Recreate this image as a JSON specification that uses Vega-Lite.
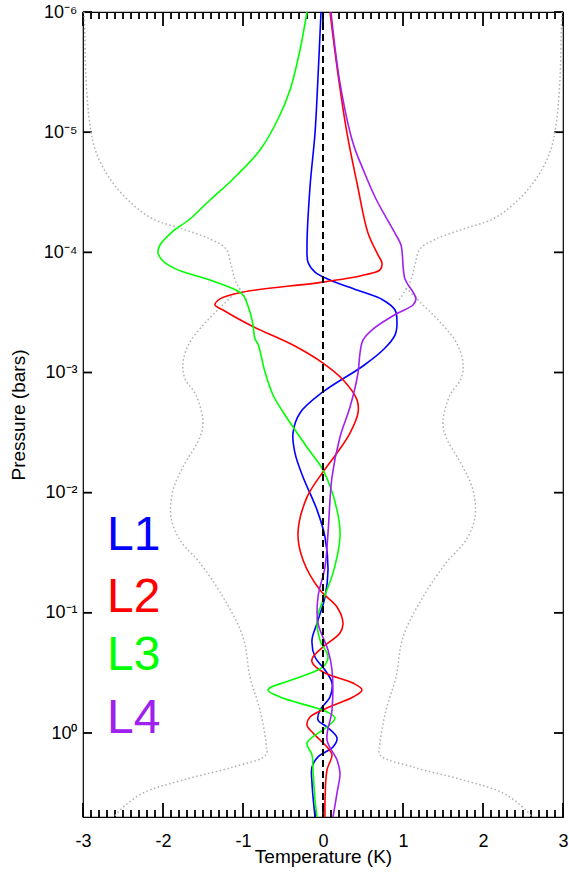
{
  "$schema": "https://vega.github.io/schema/vega-lite/v6.json",
  "width": 480,
  "height": 805,
  "autosize": {"type": "none"},
  "padding": {"left": 83, "top": 12, "right": 6, "bottom": 56},
  "config": {
    "view": {"stroke": "#000000", "strokeWidth": 1.2},
    "axis": {
      "grid": false,
      "domain": false,
      "labelFlush": false,
      "labelFont": "Liberation Sans",
      "titleFont": "Liberation Sans",
      "labelFontSize": 18,
      "titleFontSize": 19,
      "titleFontWeight": "normal",
      "labelColor": "#000000",
      "titleColor": "#000000"
    }
  },
  "datasets": {
    "env": [
      {"seg": "LU", "T": -2.9875, "p": 1e-6}, {"seg": "LU", "T": -2.98, "p": 1.28e-6}, {"seg": "LU", "T": -2.9625, "p": 3.61e-6}, {"seg": "LU", "T": -2.9125, "p": 8.71e-6}, {"seg": "LU", "T": -2.8375, "p": 1.46e-5}, {"seg": "LU", "T": -2.6625, "p": 2.45e-5}, {"seg": "LU", "T": -2.4125, "p": 3.81e-5}, {"seg": "LU", "T": -2.125, "p": 5.28e-5}, {"seg": "LU", "T": -1.75, "p": 6.40e-5}, {"seg": "LU", "T": -1.4125, "p": 7.75e-5}, {"seg": "LU", "T": -1.2125, "p": 9.37e-5}, {"seg": "LU", "T": -1.15, "p": 1.27e-4}, {"seg": "LU", "T": -1.0875, "p": 1.77e-4}, {"seg": "LU", "T": -0.95, "p": 2.49e-4},
      {"seg": "LL", "T": -1.0375, "p": 1.98e-4}, {"seg": "LL", "T": -1.25, "p": 2.74e-4}, {"seg": "LL", "T": -1.4625, "p": 3.80e-4}, {"seg": "LL", "T": -1.6625, "p": 5.57e-4}, {"seg": "LL", "T": -1.75, "p": 8.18e-4}, {"seg": "LL", "T": -1.725, "p": 1.13e-3}, {"seg": "LL", "T": -1.5875, "p": 1.54e-3}, {"seg": "LL", "T": -1.5, "p": 2.58e-3}, {"seg": "LL", "T": -1.5375, "p": 3.44e-3}, {"seg": "LL", "T": -1.75, "p": 6.12e-3}, {"seg": "LL", "T": -1.875, "p": 9.51e-3}, {"seg": "LL", "T": -1.9, "p": 1.60e-2}, {"seg": "LL", "T": -1.7875, "p": 2.48e-2}, {"seg": "LL", "T": -1.5375, "p": 3.85e-2}, {"seg": "LL", "T": -1.25, "p": 7.38e-2}, {"seg": "LL", "T": -1.0, "p": 0.159}, {"seg": "LL", "T": -0.9125, "p": 0.342}, {"seg": "LL", "T": -0.7875, "p": 0.644}, {"seg": "LL", "T": -0.7125, "p": 1.21}, {"seg": "LL", "T": -0.7125, "p": 1.52}, {"seg": "LL", "T": -1.125, "p": 1.92}, {"seg": "LL", "T": -1.75, "p": 2.46}, {"seg": "LL", "T": -2.25, "p": 3.16}, {"seg": "LL", "T": -2.5375, "p": 4.38}, {"seg": "LL", "T": -2.6125, "p": 5.0},
      {"seg": "RU", "T": 2.9875, "p": 1e-6}, {"seg": "RU", "T": 2.98, "p": 1.28e-6}, {"seg": "RU", "T": 2.9625, "p": 3.61e-6}, {"seg": "RU", "T": 2.9125, "p": 8.71e-6}, {"seg": "RU", "T": 2.8375, "p": 1.46e-5}, {"seg": "RU", "T": 2.6625, "p": 2.45e-5}, {"seg": "RU", "T": 2.4125, "p": 3.81e-5}, {"seg": "RU", "T": 2.125, "p": 5.28e-5}, {"seg": "RU", "T": 1.75, "p": 6.40e-5}, {"seg": "RU", "T": 1.4125, "p": 7.75e-5}, {"seg": "RU", "T": 1.2125, "p": 9.37e-5}, {"seg": "RU", "T": 1.15, "p": 1.27e-4}, {"seg": "RU", "T": 1.0875, "p": 1.77e-4}, {"seg": "RU", "T": 0.95, "p": 2.49e-4},
      {"seg": "RL", "T": 1.0375, "p": 1.98e-4}, {"seg": "RL", "T": 1.25, "p": 2.74e-4}, {"seg": "RL", "T": 1.4625, "p": 3.80e-4}, {"seg": "RL", "T": 1.6625, "p": 5.57e-4}, {"seg": "RL", "T": 1.75, "p": 8.18e-4}, {"seg": "RL", "T": 1.725, "p": 1.13e-3}, {"seg": "RL", "T": 1.5875, "p": 1.54e-3}, {"seg": "RL", "T": 1.5, "p": 2.58e-3}, {"seg": "RL", "T": 1.5375, "p": 3.44e-3}, {"seg": "RL", "T": 1.75, "p": 6.12e-3}, {"seg": "RL", "T": 1.875, "p": 9.51e-3}, {"seg": "RL", "T": 1.9, "p": 1.60e-2}, {"seg": "RL", "T": 1.7875, "p": 2.48e-2}, {"seg": "RL", "T": 1.5375, "p": 3.85e-2}, {"seg": "RL", "T": 1.25, "p": 7.38e-2}, {"seg": "RL", "T": 1.0, "p": 0.159}, {"seg": "RL", "T": 0.9125, "p": 0.342}, {"seg": "RL", "T": 0.7875, "p": 0.644}, {"seg": "RL", "T": 0.7125, "p": 1.21}, {"seg": "RL", "T": 0.7125, "p": 1.52}, {"seg": "RL", "T": 1.125, "p": 1.92}, {"seg": "RL", "T": 1.75, "p": 2.46}, {"seg": "RL", "T": 2.25, "p": 3.16}, {"seg": "RL", "T": 2.5375, "p": 4.38}, {"seg": "RL", "T": 2.6125, "p": 5.0}
    ],
    "curves": [
      {"s": "L1", "T": -0.025, "p": 1e-6}, {"s": "L1", "T": -0.0625, "p": 3.48e-6}, {"s": "L1", "T": -0.1, "p": 1.02e-5}, {"s": "L1", "T": -0.1625, "p": 2.86e-5}, {"s": "L1", "T": -0.2, "p": 9.04e-5}, {"s": "L1", "T": -0.1875, "p": 1.21e-4}, {"s": "L1", "T": -0.1, "p": 1.46e-4}, {"s": "L1", "T": 0.0875, "p": 1.70e-4}, {"s": "L1", "T": 0.425, "p": 2.06e-4}, {"s": "L1", "T": 0.75, "p": 2.49e-4}, {"s": "L1", "T": 0.9, "p": 3.02e-4}, {"s": "L1", "T": 0.925, "p": 3.87e-4}, {"s": "L1", "T": 0.9, "p": 4.88e-4}, {"s": "L1", "T": 0.7625, "p": 6.38e-4}, {"s": "L1", "T": 0.5, "p": 8.83e-4}, {"s": "L1", "T": 0.0, "p": 1.45e-3}, {"s": "L1", "T": -0.2875, "p": 2.17e-3}, {"s": "L1", "T": -0.375, "p": 3.19e-3}, {"s": "L1", "T": -0.35, "p": 4.68e-3}, {"s": "L1", "T": -0.25, "p": 7.41e-3}, {"s": "L1", "T": -0.075, "p": 1.39e-2}, {"s": "L1", "T": 0.025, "p": 2.34e-2}, {"s": "L1", "T": 0.0625, "p": 4.41e-2}, {"s": "L1", "T": 0.025, "p": 7.38e-2}, {"s": "L1", "T": -0.075, "p": 0.122}, {"s": "L1", "T": -0.1375, "p": 0.168}, {"s": "L1", "T": -0.1, "p": 0.233}, {"s": "L1", "T": 0.025, "p": 0.299}, {"s": "L1", "T": 0.1125, "p": 0.384}, {"s": "L1", "T": 0.0875, "p": 0.502}, {"s": "L1", "T": -0.0375, "p": 0.644}, {"s": "L1", "T": -0.0625, "p": 0.78}, {"s": "L1", "T": 0.05, "p": 0.891}, {"s": "L1", "T": 0.175, "p": 1.10}, {"s": "L1", "T": 0.125, "p": 1.31}, {"s": "L1", "T": -0.0625, "p": 1.58}, {"s": "L1", "T": -0.1375, "p": 1.92}, {"s": "L1", "T": -0.1375, "p": 2.61}, {"s": "L1", "T": -0.1, "p": 5.0},
      {"s": "L2", "T": 0.0875, "p": 1e-6}, {"s": "L2", "T": 0.175, "p": 2.87e-6}, {"s": "L2", "T": 0.3, "p": 1.02e-5}, {"s": "L2", "T": 0.425, "p": 2.65e-5}, {"s": "L2", "T": 0.5625, "p": 6.90e-5}, {"s": "L2", "T": 0.6875, "p": 1.05e-4}, {"s": "L2", "T": 0.7375, "p": 1.23e-4}, {"s": "L2", "T": 0.7125, "p": 1.40e-4}, {"s": "L2", "T": 0.5, "p": 1.55e-4}, {"s": "L2", "T": 0.0, "p": 1.77e-4}, {"s": "L2", "T": -1.0, "p": 2.14e-4}, {"s": "L2", "T": -1.2875, "p": 2.44e-4}, {"s": "L2", "T": -1.35, "p": 2.74e-4}, {"s": "L2", "T": -1.25, "p": 3.02e-4}, {"s": "L2", "T": -0.9125, "p": 4.03e-4}, {"s": "L2", "T": -0.375, "p": 5.90e-4}, {"s": "L2", "T": 0.0, "p": 8.34e-4}, {"s": "L2", "T": 0.25, "p": 1.15e-3}, {"s": "L2", "T": 0.425, "p": 1.69e-3}, {"s": "L2", "T": 0.4375, "p": 2.17e-3}, {"s": "L2", "T": 0.3375, "p": 3.19e-3}, {"s": "L2", "T": 0.175, "p": 4.68e-3}, {"s": "L2", "T": 0.0, "p": 6.73e-3}, {"s": "L2", "T": -0.2, "p": 1.09e-2}, {"s": "L2", "T": -0.3125, "p": 2.17e-2}, {"s": "L2", "T": -0.25, "p": 3.63e-2}, {"s": "L2", "T": -0.0375, "p": 6.46e-2}, {"s": "L2", "T": 0.175, "p": 8.95e-2}, {"s": "L2", "T": 0.25, "p": 0.122}, {"s": "L2", "T": 0.2125, "p": 0.147}, {"s": "L2", "T": 0.0, "p": 0.192}, {"s": "L2", "T": -0.125, "p": 0.233}, {"s": "L2", "T": -0.1375, "p": 0.256}, {"s": "L2", "T": 0.0, "p": 0.311}, {"s": "L2", "T": 0.375, "p": 0.384}, {"s": "L2", "T": 0.4875, "p": 0.438}, {"s": "L2", "T": 0.375, "p": 0.502}, {"s": "L2", "T": 0.05, "p": 0.619}, {"s": "L2", "T": -0.1625, "p": 0.737}, {"s": "L2", "T": -0.2, "p": 0.859}, {"s": "L2", "T": -0.125, "p": 1.0}, {"s": "L2", "T": 0.05, "p": 1.31}, {"s": "L2", "T": 0.1125, "p": 1.52}, {"s": "L2", "T": 0.05, "p": 2.03}, {"s": "L2", "T": 0.025, "p": 3.61}, {"s": "L2", "T": 0.025, "p": 5.0},
      {"s": "L3", "T": -0.2, "p": 1e-6}, {"s": "L3", "T": -0.2875, "p": 2.07e-6}, {"s": "L3", "T": -0.4125, "p": 4.46e-6}, {"s": "L3", "T": -0.55, "p": 7.48e-6}, {"s": "L3", "T": -0.7875, "p": 1.41e-5}, {"s": "L3", "T": -1.1375, "p": 2.50e-5}, {"s": "L3", "T": -1.4125, "p": 3.67e-5}, {"s": "L3", "T": -1.6625, "p": 5.28e-5}, {"s": "L3", "T": -1.8875, "p": 6.78e-5}, {"s": "L3", "T": -2.0375, "p": 8.69e-5}, {"s": "L3", "T": -2.0625, "p": 9.93e-5}, {"s": "L3", "T": -2.0125, "p": 1.16e-4}, {"s": "L3", "T": -1.8375, "p": 1.38e-4}, {"s": "L3", "T": -1.4125, "p": 1.70e-4}, {"s": "L3", "T": -1.0875, "p": 2.06e-4}, {"s": "L3", "T": -1.0, "p": 2.26e-4}, {"s": "L3", "T": -0.9125, "p": 3.14e-4}, {"s": "L3", "T": -0.875, "p": 4.03e-4}, {"s": "L3", "T": -0.85, "p": 5.26e-4}, {"s": "L3", "T": -0.8125, "p": 5.79e-4}, {"s": "L3", "T": -0.725, "p": 9.91e-4}, {"s": "L3", "T": -0.625, "p": 1.54e-3}, {"s": "L3", "T": -0.5, "p": 2.13e-3}, {"s": "L3", "T": -0.375, "p": 2.84e-3}, {"s": "L3", "T": -0.175, "p": 4.42e-3}, {"s": "L3", "T": 0.0, "p": 6.47e-3}, {"s": "L3", "T": 0.175, "p": 1.39e-2}, {"s": "L3", "T": 0.2125, "p": 2.34e-2}, {"s": "L3", "T": 0.125, "p": 4.67e-2}, {"s": "L3", "T": 0.0, "p": 7.82e-2}, {"s": "L3", "T": -0.075, "p": 0.115}, {"s": "L3", "T": -0.0375, "p": 0.168}, {"s": "L3", "T": 0.0625, "p": 0.233}, {"s": "L3", "T": 0.0, "p": 0.282}, {"s": "L3", "T": -0.2875, "p": 0.342}, {"s": "L3", "T": -0.6875, "p": 0.438}, {"s": "L3", "T": -0.5375, "p": 0.502}, {"s": "L3", "T": 0.05, "p": 0.668}, {"s": "L3", "T": 0.15, "p": 0.75}, {"s": "L3", "T": 0.05, "p": 0.891}, {"s": "L3", "T": -0.2, "p": 1.21}, {"s": "L3", "T": -0.1375, "p": 1.52}, {"s": "L3", "T": -0.125, "p": 2.03}, {"s": "L3", "T": -0.1, "p": 3.61}, {"s": "L3", "T": -0.075, "p": 5.0},
      {"s": "L4", "T": 0.1, "p": 1e-6}, {"s": "L4", "T": 0.2125, "p": 3.90e-6}, {"s": "L4", "T": 0.375, "p": 1.23e-5}, {"s": "L4", "T": 0.5, "p": 2.03e-5}, {"s": "L4", "T": 0.6625, "p": 3.60e-5}, {"s": "L4", "T": 0.9125, "p": 7.18e-5}, {"s": "L4", "T": 0.975, "p": 8.69e-5}, {"s": "L4", "T": 1.025, "p": 1.67e-4}, {"s": "L4", "T": 1.125, "p": 2.14e-4}, {"s": "L4", "T": 1.1625, "p": 2.44e-4}, {"s": "L4", "T": 1.125, "p": 2.74e-4}, {"s": "L4", "T": 0.9125, "p": 3.26e-4}, {"s": "L4", "T": 0.625, "p": 4.35e-4}, {"s": "L4", "T": 0.5, "p": 5.37e-4}, {"s": "L4", "T": 0.4625, "p": 6.89e-4}, {"s": "L4", "T": 0.4375, "p": 1.01e-3}, {"s": "L4", "T": 0.3375, "p": 1.94e-3}, {"s": "L4", "T": 0.2125, "p": 3.44e-3}, {"s": "L4", "T": 0.1125, "p": 7.41e-3}, {"s": "L4", "T": 0.0625, "p": 2.17e-2}, {"s": "L4", "T": 0.025, "p": 4.16e-2}, {"s": "L4", "T": -0.0625, "p": 7.38e-2}, {"s": "L4", "T": -0.0625, "p": 0.122}, {"s": "L4", "T": 0.0625, "p": 0.204}, {"s": "L4", "T": 0.1125, "p": 0.299}, {"s": "L4", "T": 0.1125, "p": 0.644}, {"s": "L4", "T": 0.05, "p": 1.14}, {"s": "L4", "T": 0.175, "p": 1.68}, {"s": "L4", "T": 0.2125, "p": 2.15}, {"s": "L4", "T": 0.175, "p": 3.16}, {"s": "L4", "T": 0.125, "p": 5.0}
    ],
    "zero": [{"T": 0, "p": 1e-6}, {"T": 0, "p": 5.0}],
    "labels": [
      {"s": "L1", "T": -2.7, "p": 0.030},
      {"s": "L2", "T": -2.7, "p": 0.0984},
      {"s": "L3", "T": -2.7, "p": 0.299},
      {"s": "L4", "T": -2.7, "p": 1.0}
    ],
    "xmajB": [{"T": -3}, {"T": -2}, {"T": -1}, {"T": 0}, {"T": 1}, {"T": 2}, {"T": 3}],
    "xmajT": [{"T": -3}, {"T": -2}, {"T": -1}, {"T": 0}, {"T": 1}, {"T": 2}, {"T": 3}],
    "xminB": [{"T": -2.9}, {"T": -2.8}, {"T": -2.7}, {"T": -2.6}, {"T": -2.5}, {"T": -2.4}, {"T": -2.3}, {"T": -2.2}, {"T": -2.1}, {"T": -1.9}, {"T": -1.8}, {"T": -1.7}, {"T": -1.6}, {"T": -1.5}, {"T": -1.4}, {"T": -1.3}, {"T": -1.2}, {"T": -1.1}, {"T": -0.9}, {"T": -0.8}, {"T": -0.7}, {"T": -0.6}, {"T": -0.5}, {"T": -0.4}, {"T": -0.3}, {"T": -0.2}, {"T": -0.1}, {"T": 0.1}, {"T": 0.2}, {"T": 0.3}, {"T": 0.4}, {"T": 0.5}, {"T": 0.6}, {"T": 0.7}, {"T": 0.8}, {"T": 0.9}, {"T": 1.1}, {"T": 1.2}, {"T": 1.3}, {"T": 1.4}, {"T": 1.5}, {"T": 1.6}, {"T": 1.7}, {"T": 1.8}, {"T": 1.9}, {"T": 2.1}, {"T": 2.2}, {"T": 2.3}, {"T": 2.4}, {"T": 2.5}, {"T": 2.6}, {"T": 2.7}, {"T": 2.8}, {"T": 2.9}],
    "xminT": [{"T": -2.9}, {"T": -2.8}, {"T": -2.7}, {"T": -2.6}, {"T": -2.5}, {"T": -2.4}, {"T": -2.3}, {"T": -2.2}, {"T": -2.1}, {"T": -1.9}, {"T": -1.8}, {"T": -1.7}, {"T": -1.6}, {"T": -1.5}, {"T": -1.4}, {"T": -1.3}, {"T": -1.2}, {"T": -1.1}, {"T": -0.9}, {"T": -0.8}, {"T": -0.7}, {"T": -0.6}, {"T": -0.5}, {"T": -0.4}, {"T": -0.3}, {"T": -0.2}, {"T": -0.1}, {"T": 0.1}, {"T": 0.2}, {"T": 0.3}, {"T": 0.4}, {"T": 0.5}, {"T": 0.6}, {"T": 0.7}, {"T": 0.8}, {"T": 0.9}, {"T": 1.1}, {"T": 1.2}, {"T": 1.3}, {"T": 1.4}, {"T": 1.5}, {"T": 1.6}, {"T": 1.7}, {"T": 1.8}, {"T": 1.9}, {"T": 2.1}, {"T": 2.2}, {"T": 2.3}, {"T": 2.4}, {"T": 2.5}, {"T": 2.6}, {"T": 2.7}, {"T": 2.8}, {"T": 2.9}],
    "ymajL": [{"p": 1e-6}, {"p": 1e-5}, {"p": 1e-4}, {"p": 0.001}, {"p": 0.01}, {"p": 0.1}, {"p": 1}],
    "ymajR": [{"p": 1e-6}, {"p": 1e-5}, {"p": 1e-4}, {"p": 0.001}, {"p": 0.01}, {"p": 0.1}, {"p": 1}]
  },
  "layer": [
    {
      "data": {"name": "xmajB"},
      "mark": {"type": "rule", "color": "#000000", "strokeWidth": 1.8},
      "encoding": {
        "x": {"field": "T", "type": "quantitative", "scale": {"domain": [-3, 3], "nice": false, "zero": false},
          "axis": {"orient": "bottom", "values": [-3, -2, -1, 0, 1, 2, 3], "ticks": false, "labelPadding": 15, "labelExpr": "(datum.value < 0 ? '-' : '') + abs(datum.value)", "title": "Temperature (K)", "titlePadding": -3}},
        "y": {"datum": 5, "scale": {"type": "log", "domain": [1e-6, 5], "reverse": true, "nice": false},
          "axis": {"orient": "left", "values": [1e-6, 1e-5, 1e-4, 0.001, 0.01, 0.1, 1], "ticks": false, "labelPadding": 6,
            "labelExpr": "datum.value < 3e-6 ? '10⁻⁶' : datum.value < 3e-5 ? '10⁻⁵' : datum.value < 3e-4 ? '10⁻⁴' : datum.value < 3e-3 ? '10⁻³' : datum.value < 3e-2 ? '10⁻²' : datum.value < 0.3 ? '10⁻¹' : '10⁰'",
            "title": "Pressure (bars)", "titlePadding": 15}},
        "y2": {"datum": 3.82}
      }
    },
    {
      "data": {"name": "xmajT"},
      "mark": {"type": "rule", "color": "#000000", "strokeWidth": 1.8},
      "encoding": {
        "x": {"field": "T", "type": "quantitative", "scale": {"domain": [-3, 3], "nice": false, "zero": false}, "axis": null},
        "y": {"datum": 1e-6, "scale": {"type": "log", "domain": [1e-6, 5], "reverse": true, "nice": false}, "axis": null},
        "y2": {"datum": 1.307e-6}
      }
    },
    {
      "data": {"name": "xminB"},
      "mark": {"type": "rule", "color": "#000000", "strokeWidth": 1.8},
      "encoding": {
        "x": {"field": "T", "type": "quantitative", "scale": {"domain": [-3, 3], "nice": false, "zero": false}, "axis": null},
        "y": {"datum": 5, "scale": {"type": "log", "domain": [1e-6, 5], "reverse": true, "nice": false}, "axis": null},
        "y2": {"datum": 4.37}
      }
    },
    {
      "data": {"name": "xminT"},
      "mark": {"type": "rule", "color": "#000000", "strokeWidth": 1.8},
      "encoding": {
        "x": {"field": "T", "type": "quantitative", "scale": {"domain": [-3, 3], "nice": false, "zero": false}, "axis": null},
        "y": {"datum": 1e-6, "scale": {"type": "log", "domain": [1e-6, 5], "reverse": true, "nice": false}, "axis": null},
        "y2": {"datum": 1.143e-6}
      }
    },
    {
      "data": {"name": "ymajL"},
      "mark": {"type": "rule", "color": "#000000", "strokeWidth": 1.8},
      "encoding": {
        "y": {"field": "p", "type": "quantitative", "scale": {"type": "log", "domain": [1e-6, 5], "reverse": true, "nice": false}, "axis": null},
        "x": {"datum": -3, "scale": {"domain": [-3, 3], "nice": false, "zero": false}, "axis": null},
        "x2": {"datum": -2.8875}
      }
    },
    {
      "data": {"name": "ymajR"},
      "mark": {"type": "rule", "color": "#000000", "strokeWidth": 1.8},
      "encoding": {
        "y": {"field": "p", "type": "quantitative", "scale": {"type": "log", "domain": [1e-6, 5], "reverse": true, "nice": false}, "axis": null},
        "x": {"datum": 3, "scale": {"domain": [-3, 3], "nice": false, "zero": false}, "axis": null},
        "x2": {"datum": 2.8875}
      }
    },
    {
      "data": {"name": "env"},
      "mark": {"type": "line", "color": "#b0b0b0", "strokeWidth": 1.5, "strokeDash": [1.5, 2.5], "interpolate": "catmull-rom"},
      "encoding": {
        "x": {"field": "T", "type": "quantitative", "scale": {"domain": [-3, 3], "nice": false, "zero": false}, "axis": null},
        "y": {"field": "p", "type": "quantitative", "scale": {"type": "log", "domain": [1e-6, 5], "reverse": true, "nice": false}, "axis": null},
        "detail": {"field": "seg"},
        "order": {"value": null}
      }
    },
    {
      "data": {"name": "curves"},
      "mark": {"type": "line", "strokeWidth": 1.6, "interpolate": "catmull-rom"},
      "encoding": {
        "x": {"field": "T", "type": "quantitative", "scale": {"domain": [-3, 3], "nice": false, "zero": false}, "axis": null},
        "y": {"field": "p", "type": "quantitative", "scale": {"type": "log", "domain": [1e-6, 5], "reverse": true, "nice": false}, "axis": null},
        "color": {"field": "s", "type": "nominal", "scale": {"domain": ["L1", "L2", "L3", "L4"], "range": ["#0000ff", "#ff0000", "#00ff00", "#a020f0"]}, "legend": null},
        "order": {"value": null}
      }
    },
    {
      "data": {"name": "zero"},
      "mark": {"type": "line", "color": "#000000", "strokeWidth": 2, "strokeDash": [7, 4]},
      "encoding": {
        "x": {"field": "T", "type": "quantitative", "scale": {"domain": [-3, 3], "nice": false, "zero": false}, "axis": null},
        "y": {"field": "p", "type": "quantitative", "scale": {"type": "log", "domain": [1e-6, 5], "reverse": true, "nice": false}, "axis": null},
        "order": {"value": null}
      }
    },
    {
      "data": {"name": "labels"},
      "mark": {"type": "text", "align": "left", "baseline": "alphabetic", "fontSize": 48, "font": "Liberation Sans"},
      "encoding": {
        "x": {"field": "T", "type": "quantitative", "scale": {"domain": [-3, 3], "nice": false, "zero": false}, "axis": null},
        "y": {"field": "p", "type": "quantitative", "scale": {"type": "log", "domain": [1e-6, 5], "reverse": true, "nice": false}, "axis": null},
        "text": {"field": "s"},
        "color": {"field": "s", "type": "nominal", "scale": {"domain": ["L1", "L2", "L3", "L4"], "range": ["#0000ff", "#ff0000", "#00ff00", "#a020f0"]}, "legend": null}
      }
    }
  ],
  "resolve": {"axis": {"x": "independent", "y": "independent"}}
}
